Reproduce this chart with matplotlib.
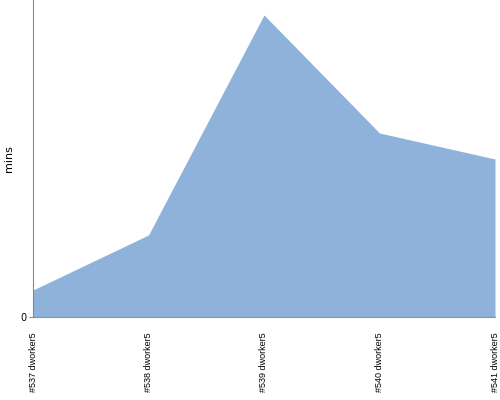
import matplotlib
matplotlib.use("Agg")
import matplotlib.pyplot as plt

# build durations per job
builds = ["#537 dworker5", "#538 dworker5", "#539 dworker5", "#540 dworker5", "#541 dworker5"]
mins = [2.7, 8.2, 30.2, 18.4, 15.8]

fig = plt.figure(figsize=(5, 4), dpi=100)
ax = fig.add_axes([0.066, 0.2075, 0.924, 0.7925])

x = range(len(builds))
ax.fill_between(x, mins, 0, color="#8fb2da", linewidth=0)

ax.set_xlim(0, len(builds) - 1)
ax.set_ylim(0, 31.7)
ax.set_yticks([0])
ax.set_yticklabels(["0"], fontsize=7)
ax.set_xticks(list(x))
ax.set_xticklabels(builds, rotation=90, fontsize=6.5, family="Liberation Sans")
ax.set_ylabel("mins", fontsize=8)
ax.tick_params(axis="x", length=0, pad=11)
ax.tick_params(axis="y", length=3, color="#888888", pad=2)

for side in ["top", "right"]:
    ax.spines[side].set_visible(False)
ax.spines["left"].set_color("#888888")
ax.spines["bottom"].set_color("#7f95b0")

fig.savefig("out.png", dpi=100)
